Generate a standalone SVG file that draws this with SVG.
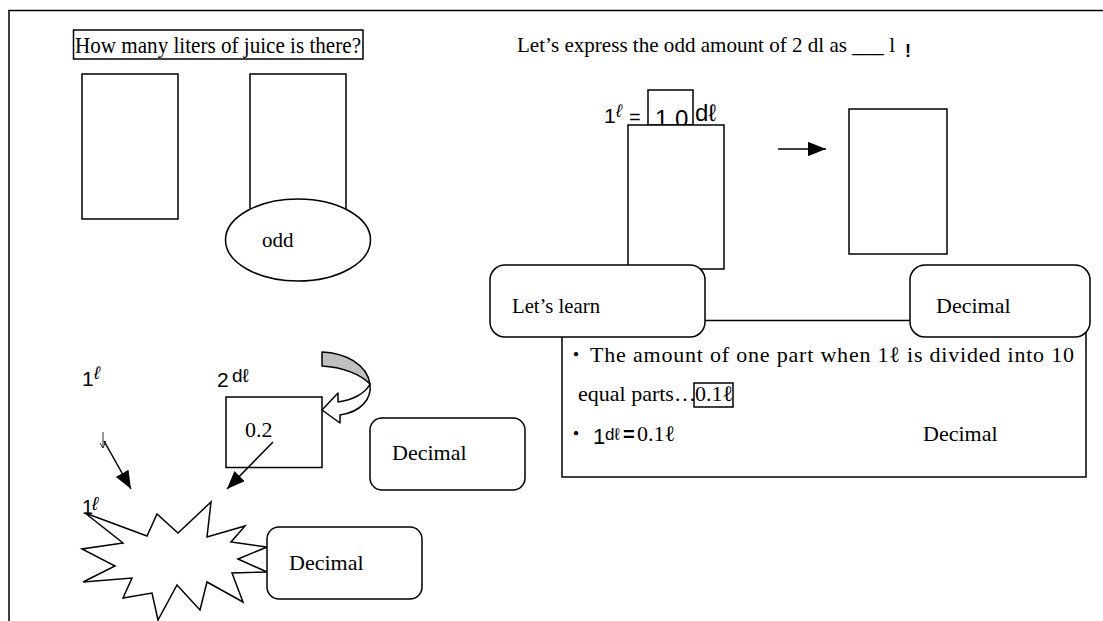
<svg xmlns="http://www.w3.org/2000/svg" width="1103" height="621" viewBox="0 0 1103 621">
  <style>
    .ln { fill: none; stroke: #000; stroke-width: 1.5; }
    .box { fill: #fff; stroke: #000; stroke-width: 1.5; }
    .serif { font-family: "Liberation Serif", "Times New Roman", serif; fill: #000; }
    .sans { font-family: "Liberation Sans", Arial, "DejaVu Sans", sans-serif; fill: #000; }
    .cjk { font-family: "Noto Sans CJK JP", "DejaVu Sans", sans-serif; fill: #000; }
  </style>
  <defs>
    <marker id="head" viewBox="0 0 10 8" refX="10" refY="4" markerWidth="18" markerHeight="14.4" markerUnits="userSpaceOnUse" orient="auto">
      <path d="M0,0 L10,4 L0,8 z" fill="#000"/>
    </marker>
  </defs>

  <!-- page frame -->
  <path class="ln" d="M9,621 L9,10.5 L1103,10.5"/>

  <!-- left column: question -->
  <g id="question">
    <rect class="box" x="73.5" y="30" width="289.5" height="29"/>
    <text class="serif" x="75" y="53" font-size="24" textLength="286" lengthAdjust="spacingAndGlyphs">How many liters of juice is there?</text>
  </g>
  <g id="container-a">
    <rect class="box" x="82" y="74" width="96" height="145"/>
  </g>
  <g id="container-b">
    <rect class="box" x="250" y="74" width="96" height="145"/>
  </g>
  <g id="odd">
    <ellipse class="box" cx="298" cy="240" rx="72.5" ry="41"/>
    <text class="serif" x="262" y="247" font-size="21">odd</text>
  </g>

  <!-- right column: task -->
  <g id="task">
    <text class="serif" x="517" y="52" font-size="21.5" textLength="378" lengthAdjust="spacingAndGlyphs">Let’s express the odd amount of 2 dl as ___ l</text>
    <text class="sans" x="905" y="57" font-size="18" font-weight="bold">!</text>
  </g>
  <g id="conversion">
    <text class="sans" x="604" y="123" font-size="21">1</text>
    <text class="sans" x="616" y="117" font-size="18" font-style="italic">ℓ</text>
    <text class="sans" x="629" y="124" font-size="20">=</text>
    <rect class="box" x="648" y="90" width="45" height="35"/>
    <text class="sans" x="655" y="127" font-size="24">1</text>
    <text class="sans" x="675" y="127" font-size="24">0</text>
    <text class="sans" x="695" y="121" font-size="24">dℓ</text>
  </g>
  <g id="container-c">
    <rect class="box" x="628" y="125" width="96" height="144"/>
  </g>
  <g id="container-d">
    <rect class="box" x="849" y="109" width="98" height="145"/>
  </g>

  <!-- summary panel -->
  <g id="summary">
    <rect class="box" x="562" y="320.5" width="524" height="156.5"/>
    <text class="cjk" x="566" y="362" font-size="20">・</text>
    <text class="serif" x="590" y="362" font-size="22" textLength="484" lengthAdjust="spacing">The amount of one part when 1ℓ is divided into 10</text>
    <text class="serif" x="578" y="401" font-size="22">equal parts…</text>
    <rect class="ln" x="694" y="383" width="39" height="24"/>
    <text class="serif" x="695" y="401" font-size="22">0.1ℓ</text>
    <text class="cjk" x="566" y="441" font-size="20">・</text>
    <text class="sans" x="593" y="444" font-size="22">1</text>
    <text class="sans" x="605" y="440" font-size="17">dℓ</text>
    <text class="sans" x="623" y="441" font-size="20" font-weight="bold">=</text>
    <text class="serif" x="637" y="441" font-size="22">0.1ℓ</text>
    <text class="serif" x="923" y="441" font-size="22">Decimal</text>
  </g>
  <g id="learn">
    <rect class="box" x="490" y="265" width="215" height="72" rx="15"/>
    <text class="serif" x="512" y="313" font-size="22" textLength="88" lengthAdjust="spacingAndGlyphs">Let’s learn</text>
  </g>
  <g id="decimal-title">
    <rect class="box" x="910" y="265" width="180" height="72" rx="15"/>
    <text class="serif" x="936" y="313" font-size="22">Decimal</text>
  </g>

  <!-- lower left: from 2 dl to 0.2 -->
  <g id="one-litre">
    <text class="sans" x="82" y="386" font-size="21">1</text>
    <text class="sans" x="94" y="379" font-size="18" font-style="italic">ℓ</text>
  </g>
  <g id="two-dl">
    <text class="sans" x="217" y="387" font-size="21">2</text>
    <text class="sans" x="232" y="382" font-size="19">dℓ</text>
  </g>
  <g id="value-box">
    <rect class="box" x="226" y="397" width="96" height="70.5"/>
    <text class="serif" x="245" y="437" font-size="22">0.2</text>
  </g>
  <g id="turn-arrow">
    <path d="M322,352 C345,353 367,364 370,384 C360,374 342,367 322,366 Z" fill="#c0c0c0" stroke="#000" stroke-width="1.5" stroke-linejoin="round"/>
    <path d="M370,384 C372,400 360,412 340,415 L340,423 L322,410 L338,393 L338,402 C352,400 365,394 370,384 Z" fill="#fff" stroke="#000" stroke-width="1.5" stroke-linejoin="round"/>
  </g>
  <g id="decimal-mid">
    <rect class="box" x="370" y="418" width="155" height="72" rx="12"/>
    <text class="serif" x="392" y="460" font-size="22">Decimal</text>
  </g>
  <g id="burst">
    <polygon class="box" points="85,513 147,536 157,514 178,533 211,502 207,537 245,526 231,542 267,547 238,559 267,572 232,573 243,602 207,582 200,610 177,585 158,620 152,593 123,598 132,578 83,582 115,566 82,549 123,543"/>
    <text class="sans" x="82" y="514" font-size="20">1</text>
    <text class="sans" x="92" y="510" font-size="19" font-style="italic">ℓ</text>
  </g>
  <g id="decimal-low">
    <rect class="box" x="267" y="527" width="155" height="72" rx="12"/>
    <text class="serif" x="289" y="570" font-size="22">Decimal</text>
  </g>

  <!-- connectors -->
  <g id="connectors">
    <line class="ln" x1="778" y1="149" x2="826" y2="149" marker-end="url(#head)"/>
    <path d="M103,432 L103,448 M100,443 L103,448 L106,441" fill="none" stroke="#333" stroke-width="1"/>
    <line class="ln" x1="104" y1="441" x2="131" y2="489" marker-end="url(#head)"/>
    <line class="ln" x1="273" y1="442" x2="227" y2="489" marker-end="url(#head)"/>
  </g>
</svg>
